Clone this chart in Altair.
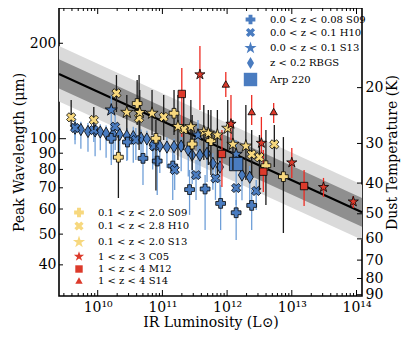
import altair as alt
import pandas as pd

FONT = "DejaVu Serif"

# ---------------- data ----------------
# log10(L_IR / Lsun), peak wavelength (um), upper / lower error-bar ends (um)

# low-redshift samples (blue)
lz_s09_logL = [10.21, 10.46, 10.70, 10.92, 11.16, 11.42, 11.66, 11.90, 12.14, 12.38]
lz_s09_lam = [100.3, 97.6, 86.7, 85.0, 82.0, 69.1, 69.4, 62.5, 58.4, 61.6]
lz_s09_hi = [110.5, 106.5, 99.1, 95.5, 92.1, 79.7, 76.8, 71.4, 64.1, 68.9]
lz_s09_lo = [82.6, 85.7, 71.4, 66.4, 64.1, 57.5, 51.5, 51.5, 47.9, 51.5]

lz_h10_logL = [9.65, 9.94, 10.27, 10.59, 10.87, 11.19, 11.52, 11.82, 12.14, 12.45]
lz_h10_lam = [108.1, 106.5, 109.1, 99.1, 94.8, 79.7, 76.8, 75.0, 69.9, 68.4]
lz_h10_hi = [116.2, 114.6, 118.8, 108.1, 102.7, 88.8, 85.7, 82.6, 76.8, 74.1]
lz_h10_lo = [99.1, 97.6, 92.1, 85.7, 82.6, 68.9, 64.1, 64.1, 61.8, 59.6]

lz_s13_logL = [10.21, 11.55, 12.14]
lz_s13_lam = [123.2, 102.7, 89.3]
lz_s13_hi = [137.4, 114.6, 99.1]
lz_s13_lo = [85.7, 79.7, 76.8]

rbgs_logL = [9.65, 9.74, 9.85, 9.96, 10.04, 10.13, 10.24, 10.34, 10.45, 10.55, 10.67, 10.76,
             10.85, 10.96, 11.07, 11.18, 11.29, 11.40, 11.46, 11.58, 11.69, 11.78, 11.89, 12.23, 12.35]
rbgs_lam = [107.9, 106.9, 105.4, 105.8, 105.0, 104.0, 103.5, 103.1, 102.0, 101.5, 100.5, 99.8,
            95.5, 94.8, 94.1, 94.4, 94.8, 92.1, 88.8, 88.8, 89.9, 83.6, 81.4, 76.8, 75.6]
rbgs_hi = [114, 113, 112, 114, 111, 110, 112, 109, 108, 109, 107, 106,
           102, 101, 101, 100, 102, 98, 95, 95, 97, 90, 88, 83, 82]
rbgs_lo = [96, 93, 91, 88, 92, 87, 86, 90, 85, 84, 88, 85,
           80, 78, 81, 77, 79, 76, 72, 75, 73, 69, 65, 64, 62]

arp_logL = [12.14]
arp_lam = [83.2]

# high-redshift samples (yellow)
hz_s09_logL = [10.32, 10.61, 10.90, 11.18, 11.46, 11.75, 12.60, 12.87]
hz_s09_lam = [87.4, 129.1, 100.3, 120.3, 96.2, 98.6, 82.2, 75.9]
hz_s09_hi = [102.7, 153.2, 114.6, 142.4, 118.8, 123.2, 106.5, 101.2]
hz_s09_lo = [65.0, 110.5, 68.6, 102.7, 79.7, 76.8, 61.8, 50.4]

hz_h10_logL = [9.59, 9.94, 10.29, 10.64, 11.02, 11.33, 12.38, 12.50, 12.73]
hz_h10_lam = [116.8, 114.6, 139.1, 116.2, 117.1, 107.1, 89.3, 87.4, 96.0]
hz_h10_hi = [132.5, 125.9, 158.8, 158.8, 137.4, 137.4, 106.5, 102.7, 110.5]
hz_h10_lo = [108.9, 106.5, 121.4, 92.1, 99.1, 92.1, 76.8, 68.9, 81.4]

hz_s13_logL = [10.45, 10.65, 10.84, 11.24, 11.44, 11.64, 11.71, 11.85, 12.01, 12.09, 12.29]
hz_s13_lam = [121.1, 121.0, 120.3, 109.3, 109.1, 105.2, 104.0, 102.7, 107.9, 96.0, 94.8]
hz_s13_hi = [137.4, 142.4, 142.4, 137.4, 132.5, 127.7, 123.2, 123.2, 132.5, 114.6, 127.7]
hz_s13_lo = [106.5, 102.7, 102.7, 85.7, 92.1, 85.7, 82.6, 76.8, 92.1, 79.7, 74.1]

# z > 1 samples (red)
c05_logL = [11.58, 12.06, 12.53, 13.00, 13.49, 13.95]
c05_lam = [159.4, 111.3, 96.9, 84.1, 70.3, 63.3]
c05_hi = [196.1, 137.4, 117.1, 93.5, 75.2, 66.0]
c05_lo = [123.2, 99.1, 85.7, 75.2, 65.5, 60.5]

m12_logL = [11.30, 11.92, 12.56, 13.19]
m12_lam = [138.4, 89.5, 78.7, 70.9]
m12_hi = [167.1, 106.5, 92.1, 79.7]
m12_lo = [101.2, 70.4, 67.9, 61.3]

s14_logL = [11.98, 12.38, 12.72]
s14_lam = [148.8, 121.8, 121.8]
s14_hi = [162.3, 137.4, 129.6]
s14_lo = [135.4, 110.5, 112.1]

# best-fit relation and its two bands (at the ends of the axis)
fit_logL = [9.402, 14.085]
fit_lam = [160.0, 58.6]
fit_dark_hi = [178.0, 65.0]
fit_dark_lo = [144.0, 52.8]
fit_light_hi = [196.0, 71.6]
fit_light_lo = [131.0, 48.0]

blue_names = ["0.0 < z < 0.08 S09", "0.0 < z < 0.1 H10", "0.0 < z < 0.1 S13",
              "z < 0.2 RBGS", "Arp 220"]
hi_names = ["0.1 < z < 2.0 S09", "0.1 < z < 2.8 H10", "0.1 < z < 2.0 S13",
            "1 < z < 3 C05", "1 < z < 4 M12", "1 < z < 4 S14"]

x_decades = [1e10, 1e11, 1e12, 1e13, 1e14]
lam_ticks = [40, 50, 60, 70, 80, 90, 100, 200]
temp_ticks = [20, 30, 40, 50, 60, 70, 80, 90]

# ---------------- styling ----------------
W, H = 303, 288
BLUE = "#4a7cc0"
YELLOW = "#f7d87e"
RED = "#dc3a2b"
BLUE_ERR = "#6f9fd8"
RED_ERR = "#ee2b22"
BLACK_ERR = "#1a1a1a"

X_PATH = ("M-0.48,-1L0,-0.52L0.48,-1L1,-0.48L0.52,0L1,0.48L0.48,1L0,0.52"
          "L-0.48,1L-1,0.48L-0.52,0L-1,-0.48Z")
DIAMOND = "M0,-1L0.58,0L0,1L-0.58,0Z"
STAR = ("M0,-1L0.225,-0.309L0.951,-0.309L0.363,0.118L0.588,0.809L0,0.382"
        "L-0.588,0.809L-0.363,0.118L-0.951,-0.309L-0.225,-0.309Z")

L_DOMAIN = [10 ** 9.402, 10 ** 14.085]
LAM_DOMAIN = [31.9, 258.4]
T_DOMAIN = [2898 / 258.4, 2898 / 31.9]   # Wien: T = 2898 um K / lambda

xscale = alt.Scale(type="log", domain=L_DOMAIN, nice=False)
yscale = alt.Scale(type="log", domain=LAM_DOMAIN, nice=False)
tscale = alt.Scale(type="log", domain=T_DOMAIN, reverse=True, nice=False)

sup = "\u2070\u00b9\u00b2\u00b3\u2074\u2075\u2076\u2077\u2078\u2079"
label_expr = ("'10\u00b9' + substring('" + sup + "', round(log(datum.value)/LN10) % 10, "
              "round(log(datum.value)/LN10) % 10 + 1)")

x_axis = alt.Axis(values=x_decades, ticks=False, domain=False, grid=False,
                  labelExpr=label_expr, labelPadding=4, labelFlush=False,
                  labelOverlap=False, title="IR Luminosity (L\u2299)", titlePadding=1)
y_axis = alt.Axis(values=lam_ticks, ticks=False, domain=False, grid=False,
                  labelPadding=3, labelFlush=False, labelOverlap=False, format="d",
                  title="Peak Wavelength (\u03bcm)", titlePadding=3)


def XF(field):
    return alt.X(field, scale=xscale, axis=x_axis)


def YF(field):
    return alt.Y(field, scale=yscale, axis=y_axis)


def frame(name, logL, lam, lo=None, hi=None):
    return pd.DataFrame({
        "series": name,
        "L": [10 ** v for v in logL],
        "lam": lam,
        "lo": lo if lo is not None else lam,
        "hi": hi if hi is not None else lam,
    })


lz_s09 = frame(blue_names[0], lz_s09_logL, lz_s09_lam, lz_s09_lo, lz_s09_hi)
lz_h10 = frame(blue_names[1], lz_h10_logL, lz_h10_lam, lz_h10_lo, lz_h10_hi)
lz_s13 = frame(blue_names[2], lz_s13_logL, lz_s13_lam, lz_s13_lo, lz_s13_hi)
rbgs = frame(blue_names[3], rbgs_logL, rbgs_lam, rbgs_lo, rbgs_hi)
arp = frame(blue_names[4], arp_logL, arp_lam)

hz_s09 = frame(hi_names[0], hz_s09_logL, hz_s09_lam, hz_s09_lo, hz_s09_hi)
hz_h10 = frame(hi_names[1], hz_h10_logL, hz_h10_lam, hz_h10_lo, hz_h10_hi)
hz_s13 = frame(hi_names[2], hz_s13_logL, hz_s13_lam, hz_s13_lo, hz_s13_hi)
c05 = frame(hi_names[3], c05_logL, c05_lam, c05_lo, c05_hi)
m12 = frame(hi_names[4], m12_logL, m12_lam, m12_lo, m12_hi)
s14 = frame(hi_names[5], s14_logL, s14_lam, s14_lo, s14_hi)

blue_df = pd.concat([rbgs, lz_s09, lz_h10, lz_s13, arp], ignore_index=True)
yel_df = pd.concat([hz_s09, hz_h10, hz_s13], ignore_index=True)
red_df = pd.concat([c05, m12, s14], ignore_index=True)
hi_df = pd.concat([yel_df, red_df], ignore_index=True)

fit_df = pd.DataFrame({
    "L": [10 ** v for v in fit_logL], "lam": fit_lam,
    "dhi": fit_dark_hi, "dlo": fit_dark_lo, "lhi": fit_light_hi, "llo": fit_light_lo,
})

light = alt.Chart(fit_df).mark_area(color="#dadada").encode(XF("L:Q"), y=YF("llo:Q"), y2="lhi:Q")
dark = alt.Chart(fit_df).mark_area(color="#8f8f8f").encode(XF("L:Q"), y=YF("dlo:Q"), y2="dhi:Q")
line = alt.Chart(fit_df).mark_line(color="black", strokeWidth=2).encode(XF("L:Q"), y=YF("lam:Q"))


def errbars(df, color):
    return alt.Chart(df[df["lo"] != df["hi"]]).mark_rule(color=color, strokeWidth=1.3).encode(
        XF("L:Q"), y=YF("lo:Q"), y2="hi:Q")


def legend(x, y, offset, pad):
    return alt.Legend(title=None, orient="none", legendX=x, legendY=y,
                      labelFont=FONT, labelFontSize=10, labelColor="black",
                      symbolStrokeColor="black", symbolStrokeWidth=0.8,
                      rowPadding=pad, labelOffset=offset, padding=0)


def points(df, names, shapes, fills, sizes, leg):
    return alt.Chart(df).mark_point(filled=True, stroke="black", strokeWidth=0.8,
                                    opacity=1).encode(
        XF("L:Q"), y=YF("lam:Q"),
        shape=alt.Shape("series:N", scale=alt.Scale(domain=names, range=shapes), legend=leg),
        fill=alt.Fill("series:N", scale=alt.Scale(domain=names, range=fills), legend=leg),
        size=alt.Size("series:N",
                      scale=alt.Scale(type="ordinal", domain=names, range=sizes), legend=leg),
    )


blue_pts = points(blue_df, blue_names, ["cross", X_PATH, STAR, DIAMOND, "square"],
                  [BLUE] * 5, [95, 85, 165, 150, 180], legend(184, 6, 12, 0))
hi_pts = points(hi_df, hi_names,
                ["cross", X_PATH, STAR, STAR, "square", "triangle-up"],
                [YELLOW, YELLOW, YELLOW, RED, RED, RED],
                [95, 85, 165, 115, 55, 55], legend(13, 199, 12, 0.5))

# tick marks (drawn inward, positions from the scales)
minor_x = [k * 10 ** d for d in range(9, 15) for k in range(2, 10)
           if L_DOMAIN[0] <= k * 10 ** d <= L_DOMAIN[1]]


def xticks(values, length, top):
    y0 = 0 if top else H
    y1 = length if top else H - length
    return alt.Chart(pd.DataFrame({"L": values})).mark_rule(
        color="black", strokeWidth=1).encode(XF("L:Q"), y=alt.value(y0), y2=alt.value(y1))


def yticks(values, length):
    return alt.Chart(pd.DataFrame({"lam": values})).mark_rule(
        color="black", strokeWidth=1).encode(y=YF("lam:Q"), x=alt.value(0), x2=alt.value(length))


inner = alt.layer(
    light, dark, line,
    errbars(blue_df, BLUE_ERR), blue_pts,
    errbars(yel_df, BLACK_ERR), errbars(red_df, RED_ERR), hi_pts,
    xticks(x_decades, 6, False), xticks(minor_x, 3, False),
    xticks(x_decades, 6, True), xticks(minor_x, 3, True),
    yticks([v for v in lam_ticks if v != 100], 4), yticks([100], 7),
).resolve_scale(
    shape="independent", fill="independent", size="independent",
).resolve_legend(
    shape="independent", fill="independent", size="independent",
)

t_axis = alt.Axis(values=temp_ticks, ticks=False, domain=False, grid=False,
                  labelPadding=3, labelOverlap=False, labelFlush=False, format="d",
                  labelAlign="left", title="Dust Temperature (K)", titleAngle=270,
                  titleBaseline="top", titlePadding=3, orient="right")
t_layer = alt.Chart(pd.DataFrame({"T": temp_ticks})).mark_rule(
    color="black", strokeWidth=1).encode(
    y=alt.Y("T:Q", scale=tscale, axis=t_axis), x=alt.value(W), x2=alt.value(W - 5))

chart = alt.layer(inner, t_layer).resolve_scale(
    y="independent",
).properties(
    width=W, height=H,
    padding={"left": 51, "top": 0, "right": 41, "bottom": 37},
    autosize=alt.AutoSizeParams(type="none"),
).configure_axis(
    labelFont=FONT, titleFont=FONT, labelFontSize=14, titleFontSize=14,
    titleFontWeight="normal", labelColor="black", titleColor="black",
).configure_view(
    stroke="black", strokeWidth=1.6,
)

chart.save("out.html", embed_options={"renderer": "svg", "actions": False})
